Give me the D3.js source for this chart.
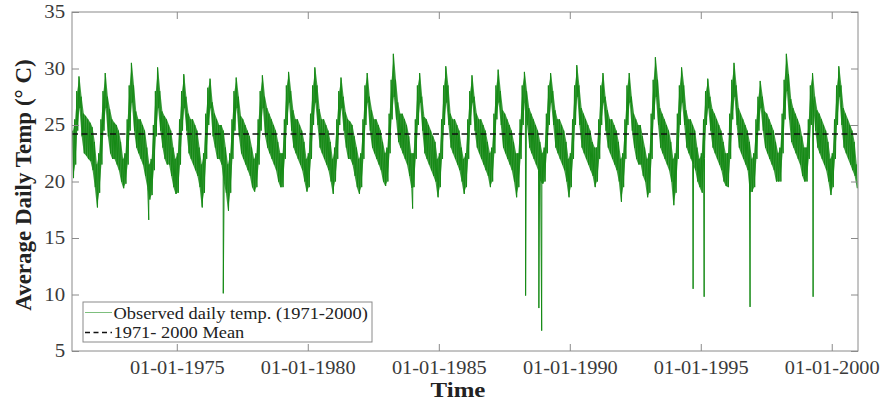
<!DOCTYPE html>
<html>
<head>
<meta charset="utf-8">
<script src="https://cdn.jsdelivr.net/npm/d3@7"></script>
<style>
  body { margin: 0; background: #fff; }
  text { font-family: "Liberation Serif", "Times New Roman", serif; }
</style>
</head>
<body>
<svg id="chart" width="881" height="402"></svg>
<script>

// years of the record, one row of monthly values per year (Jan..Dec)
var years = [1971,1972,1973,1974,1975,1976,1977,1978,1979,1980,
             1981,1982,1983,1984,1985,1986,1987,1988,1989,1990,
             1991,1992,1993,1994,1995,1996,1997,1998,1999,2000];

// upper edge of the daily band, read per month
var monthHi = [
  [24.5,25.5,28.0,29.3,27.5,26.0,25.8,25.5,25.2,24.8,23.5,21.5],
  [22.5,25.5,28.0,29.6,27.5,26.4,25.5,25.2,25.0,24.5,23.5,22.0],
  [22.5,25.5,28.5,30.5,28.5,26.2,25.5,25.5,25.0,24.5,23.0,21.5],
  [22.0,25.0,28.0,30.1,28.0,26.2,25.8,25.5,25.0,24.5,23.0,22.0],
  [22.5,25.5,28.0,29.5,27.5,26.0,25.5,25.5,25.0,24.5,23.0,21.5],
  [22.5,26.0,28.3,29.1,27.0,26.0,25.5,25.0,25.0,24.5,23.0,21.5],
  [22.5,25.5,28.0,29.2,27.5,25.8,25.5,25.0,24.5,24.0,23.0,22.0],
  [22.5,25.5,28.0,29.4,27.5,26.5,26.0,25.5,25.0,24.5,23.5,22.5],
  [22.5,25.5,28.5,29.7,28.0,26.3,25.5,25.5,25.0,24.5,23.5,22.0],
  [22.5,26.0,28.5,30.1,28.5,26.4,25.5,25.5,25.0,24.5,23.5,22.0],
  [23.0,25.5,28.0,29.2,27.5,26.1,25.5,25.3,25.0,24.0,23.0,22.0],
  [22.5,25.5,28.5,29.6,27.5,26.3,25.5,25.5,25.0,24.5,23.5,22.5],
  [23.0,26.0,29.0,31.3,29.0,27.0,26.0,26.0,25.5,25.0,24.0,22.5],
  [22.5,25.5,28.5,29.6,27.5,25.7,25.5,25.0,24.5,24.0,23.5,22.0],
  [22.5,25.5,28.5,30.2,28.5,26.0,25.5,25.5,25.0,24.5,23.0,22.0],
  [22.5,25.5,28.0,29.4,27.5,26.0,25.5,25.5,25.0,24.5,23.5,22.5],
  [23.0,26.0,28.5,29.9,28.0,26.3,26.0,25.5,25.0,24.5,23.5,22.5],
  [22.5,25.5,28.5,29.7,28.0,26.5,26.0,25.5,25.0,24.5,23.5,22.5],
  [23.0,26.0,28.5,29.6,28.0,26.3,25.5,25.5,25.0,24.5,23.5,22.0],
  [22.5,25.5,28.5,30.3,28.5,26.5,26.0,25.5,25.0,24.5,23.5,23.0],
  [23.0,25.5,28.5,29.6,27.5,26.3,25.5,25.5,25.0,24.5,23.5,22.0],
  [22.5,25.5,28.5,29.6,27.5,26.0,25.5,25.0,25.0,24.0,23.0,22.0],
  [22.5,26.0,29.0,31.0,29.0,26.5,26.0,25.5,25.0,24.5,23.5,22.0],
  [22.5,26.0,28.5,30.1,28.5,26.3,25.5,25.5,25.0,24.5,23.0,22.0],
  [22.5,25.5,28.0,29.1,27.5,26.4,26.0,25.5,25.0,24.5,23.5,22.5],
  [22.5,26.0,29.0,30.5,28.5,26.5,26.0,25.5,25.0,24.5,23.5,22.0],
  [22.5,25.5,27.5,28.9,27.5,26.2,26.0,25.5,25.0,24.5,23.5,22.5],
  [23.0,26.0,29.0,31.3,29.5,27.3,26.5,26.0,25.5,25.0,24.0,23.0],
  [23.0,25.5,28.5,29.6,27.5,26.3,26.0,25.5,25.0,24.5,23.5,22.0],
  [22.5,25.5,28.5,30.2,28.5,26.5,26.0,25.5,25.0,24.5,23.5,21.5]
];

// lower edge of the daily band, read per month
var monthLo = [
  [20.3,21.5,24.5,26.5,24.0,22.5,22.3,22.0,21.8,21.0,19.5,17.7],
  [19.0,21.5,24.5,26.5,24.0,22.5,22.0,22.0,21.5,21.0,20.0,19.4],
  [19.8,21.5,24.5,27.0,24.5,23.0,22.5,22.0,21.5,20.5,19.5,18.4],
  [18.8,21.0,24.0,26.5,24.5,23.0,22.0,21.5,21.5,20.5,19.5,18.9],
  [19.0,21.5,24.5,26.5,24.5,22.5,22.0,21.5,21.0,20.5,19.5,17.7],
  [19.0,22.0,25.0,26.5,24.0,23.0,22.0,22.0,21.5,20.0,19.0,17.4],
  [19.0,22.0,24.5,26.5,24.0,22.5,22.0,21.5,21.0,20.5,19.5,19.1],
  [19.5,21.5,24.5,26.5,24.0,23.0,22.5,22.0,21.5,21.0,20.0,19.5],
  [19.5,22.0,25.0,27.0,24.5,23.0,22.5,22.0,21.5,21.0,20.0,19.1],
  [19.5,22.0,25.0,27.0,25.0,23.0,22.5,22.0,21.5,21.0,20.0,18.9],
  [20.0,22.0,25.0,26.5,24.5,23.0,22.0,22.0,21.5,20.5,19.5,18.9],
  [19.5,22.0,25.0,27.0,24.5,23.0,22.5,22.0,21.5,21.0,20.0,19.6],
  [20.0,22.5,25.5,27.5,25.5,23.5,23.0,22.5,22.0,21.5,20.5,19.4],
  [19.5,22.0,25.0,27.0,24.5,22.5,22.0,21.5,21.0,20.5,20.0,18.6],
  [19.5,22.0,25.0,27.0,25.0,23.0,22.5,22.0,21.5,21.0,20.0,18.9],
  [19.5,22.0,25.0,27.0,24.5,23.0,22.5,22.0,21.5,21.0,20.5,19.5],
  [20.0,22.5,25.5,27.0,25.0,23.0,22.5,22.0,21.5,21.0,20.0,18.6],
  [19.5,22.0,25.0,27.0,25.0,23.0,22.5,22.0,21.5,21.0,20.0,19.8],
  [20.0,22.5,25.0,27.0,25.0,23.0,22.5,22.0,21.5,21.0,20.0,18.6],
  [19.5,22.0,25.0,27.5,25.0,23.0,22.5,22.0,21.5,21.0,20.5,19.5],
  [20.0,22.0,25.0,27.0,24.5,23.0,22.5,22.0,21.5,21.0,20.0,18.2],
  [19.5,22.0,25.0,27.0,24.5,23.0,22.0,21.5,21.5,20.5,20.0,18.6],
  [19.0,22.0,25.5,27.5,25.0,23.0,22.5,22.0,21.5,21.0,20.0,17.9],
  [19.0,22.0,25.0,27.0,25.0,23.0,22.5,22.0,21.5,21.0,20.0,19.5],
  [19.0,22.0,25.0,26.5,24.5,23.0,22.5,22.0,21.5,21.0,20.0,19.6],
  [19.5,22.0,25.5,27.5,25.0,23.0,22.5,22.0,21.5,21.0,19.0,19.1],
  [19.5,22.0,24.5,26.5,24.5,23.0,22.5,22.0,21.5,21.0,20.0,20.0],
  [20.0,22.5,25.5,28.0,25.5,23.5,23.0,22.5,22.0,21.5,20.5,20.0],
  [20.0,22.0,25.0,27.0,24.5,23.0,22.5,22.0,21.5,21.0,20.0,18.8],
  [19.5,22.0,25.0,27.5,25.0,23.0,22.5,22.0,21.5,21.0,20.5,19.4]
];

// single cold days that drop far below the band
var spikeDates = ["1973-12-06","1976-10-10","1984-01-02","1988-04-25","1988-10-27",
                  "1988-12-05","1994-09-16","1995-02-17","1996-11-18","1999-04-16"];
var spikeTemps = [16.6, 10.1, 17.6, 9.9, 8.8, 6.8, 10.5, 9.8, 8.9, 9.8];

var meanTemp = 24.2;
var yTicks = [5,10,15,20,25,30,35];
var xTickYears = [1975,1980,1985,1990,1995,2000];

var svg = d3.select("#chart");
var plotL = 72, plotR = 858, plotT = 12, plotB = 351;

var x = d3.scaleTime()
    .domain([new Date(1971,0,1), new Date(2001,0,1)])
    .range([plotL, plotR]);
var y = d3.scaleLinear()
    .domain([5,35])
    .range([plotB, plotT]);

//monthly band (upper and lower edge together) and the zigzag trace
var parse = d3.timeParse("%Y-%m-%d");
var band = [];
var series = [];
years.forEach(function(yr, i){
    for (var m = 0; m < 12; m++){
        band.push({date: new Date(yr, m, 15), hi: monthHi[i][m], lo: monthLo[i][m]});
        series.push({date: new Date(yr, m, 8), t: monthHi[i][m]});
        series.push({date: new Date(yr, m, 22), t: monthLo[i][m]});
    }
});
spikeDates.forEach(function(d, i){
    series.push({date: parse(d), t: spikeTemps[i]});
});
series.sort(function(a,b){ return a.date - b.date; });

var axisCol = "#8a8a8a", labelCol = "#3a3a3a";
var xTickDates = xTickYears.map(function(d){ return new Date(d,0,1); });

//filled core of the dense daily trace
svg.append("path")
    .datum(band)
    .attr("fill", "#1d8c1d")
    .attr("fill-opacity", 0.85)
    .attr("d", d3.area()
        .x(function(d){ return x(d.date); })
        .y0(function(d){ return y(d.lo); })
        .y1(function(d){ return y(d.hi); }));

//ragged edges and single-day spikes
svg.append("path")
    .datum(series)
    .attr("fill", "none")
    .attr("stroke", "#158a15")
    .attr("stroke-width", 1)
    .attr("d", d3.line()
        .x(function(d){ return x(d.date); })
        .y(function(d){ return y(d.t); }));

//mean line
svg.append("line")
    .attr("x1", x.range()[0]).attr("x2", x.range()[1])
    .attr("y1", y(meanTemp)).attr("y2", y(meanTemp))
    .attr("stroke", "#111")
    .attr("stroke-width", 1.6)
    .attr("stroke-dasharray", "6,3.5");

//axes, ticks pointing inward on all four sides
var xAxis = svg.append("g")
    .attr("transform", "translate(0," + plotB + ")")
    .call(d3.axisBottom(x)
        .tickValues(xTickDates)
        .tickFormat(d3.timeFormat("%m-%d-%Y"))
        .tickSizeInner(-7).tickSizeOuter(0).tickPadding(10));

var yAxis = svg.append("g")
    .attr("transform", "translate(" + plotL + ",0)")
    .call(d3.axisLeft(y)
        .tickValues(yTicks)
        .tickSizeInner(-7).tickSizeOuter(0).tickPadding(6));

svg.append("g")
    .attr("transform", "translate(0," + plotT + ")")
    .call(d3.axisTop(x).tickValues(xTickDates).tickFormat("")
        .tickSizeInner(-7).tickSizeOuter(0));

svg.append("g")
    .attr("transform", "translate(" + plotR + ",0)")
    .call(d3.axisRight(y).tickValues(yTicks).tickFormat("")
        .tickSizeInner(-7).tickSizeOuter(0));

svg.selectAll(".domain").remove();
svg.selectAll(".tick line").attr("stroke", axisCol);

xAxis.selectAll("text")
    .attr("fill", labelCol)
    .style("font-size", "18px")
    .attr("transform", "scale(1.13,1)");

yAxis.selectAll("text")
    .attr("fill", labelCol)
    .style("font-size", "18.5px")
    .attr("transform", "scale(1.13,1)");

//box
svg.append("rect")
    .attr("x", plotL).attr("y", plotT)
    .attr("width", plotR-plotL).attr("height", plotB-plotT)
    .attr("fill", "none")
    .attr("stroke", axisCol)
    .attr("stroke-width", 1);

//titles
svg.append("text")
    .attr("transform", "translate(458,397) scale(1.13,1)")
    .attr("text-anchor", "middle")
    .style("font-size", "22px")
    .style("font-weight", "bold")
    .attr("fill", "#222")
    .text("Time");

svg.append("text")
    .attr("transform", "translate(31,185) rotate(-90)")
    .attr("text-anchor", "middle")
    .style("font-size", "23px")
    .style("font-weight", "bold")
    .attr("fill", "#222")
    .text("Average Daily Temp (\u00B0 C)");

//legend
var legend = svg.append("g");
legend.append("rect")
    .attr("x", 83).attr("y", 302)
    .attr("width", 289).attr("height", 40)
    .attr("fill", "#fff")
    .attr("stroke", axisCol);

legend.append("line")
    .attr("x1", 85).attr("x2", 112)
    .attr("y1", 312.5).attr("y2", 312.5)
    .attr("stroke", "#138a13")
    .attr("stroke-opacity", 0.55)
    .attr("stroke-width", 1);

legend.append("line")
    .attr("x1", 85).attr("x2", 112)
    .attr("y1", 332.5).attr("y2", 332.5)
    .attr("stroke", "#111")
    .attr("stroke-width", 1.3)
    .attr("stroke-dasharray", "5,3.5");

legend.append("text")
    .attr("transform", "translate(113.5,318.5) scale(1.15,1)")
    .style("font-size", "16px")
    .attr("fill", "#222")
    .text("Observed daily temp. (1971-2000)");

legend.append("text")
    .attr("transform", "translate(113.5,338) scale(1.15,1)")
    .style("font-size", "16px")
    .attr("fill", "#222")
    .text("1971- 2000 Mean");

</script>
</body>
</html>
